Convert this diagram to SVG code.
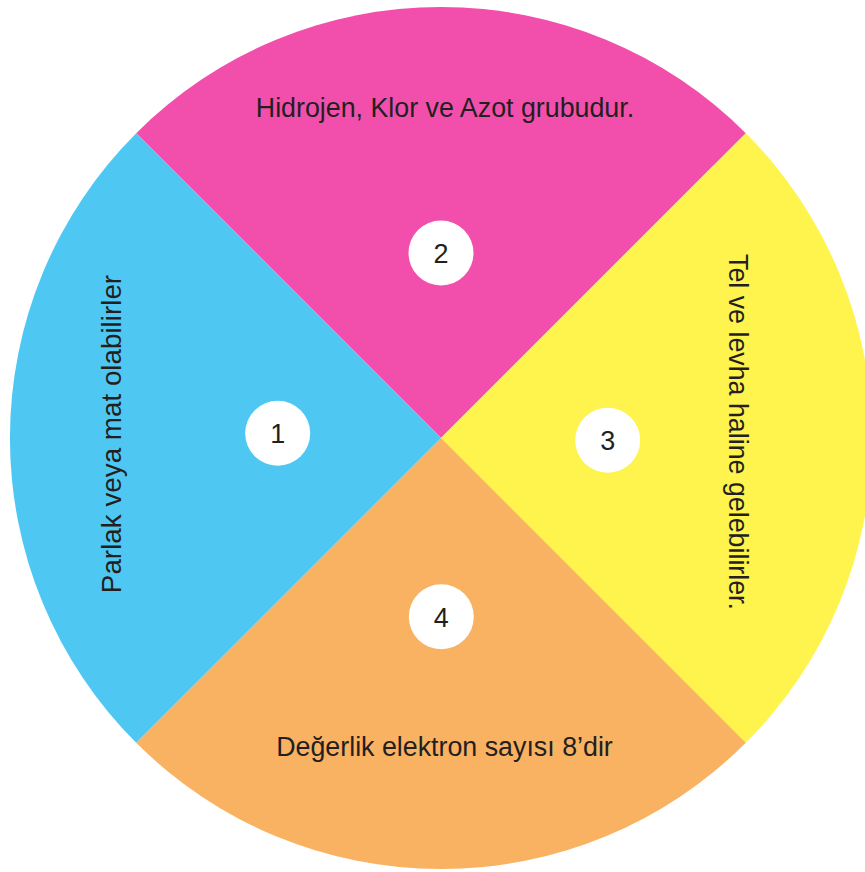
<svg xmlns="http://www.w3.org/2000/svg" width="865" height="872" viewBox="0 0 865 872">
<style>
.t{font-family:"Liberation Sans",Arial,sans-serif;fill:#231F20;font-size:26.8px;text-anchor:middle}
.n{font-size:27px}
.b{fill:#FFFFFF}
</style>
<rect width="865" height="872" fill="#FFFFFF"/>
<g id="sector-2">
<path d="M441 438 L136.2 133.2 A431 431 0 0 1 745.8 133.2 Z" fill="#F24FAD"/>
<text class="t" x="445" y="117">Hidrojen, Klor ve Azot grubudur.</text>
<circle class="b" cx="441" cy="253" r="32.5"/>
<text class="t n" x="441" y="262.5">2</text>
</g>
<g id="sector-3">
<path d="M441 438 L745.8 133.2 A431 431 0 0 1 745.8 742.8 Z" fill="#FFF34D"/>
<text class="t" transform="translate(729 432) rotate(90)" x="0" y="0">Tel ve levha haline gelebilirler.</text>
<circle class="b" cx="607.7" cy="440.3" r="32.5"/>
<text class="t n" x="607.7" y="450">3</text>
</g>
<g id="sector-4">
<path d="M441 438 L745.8 742.8 A431 431 0 0 1 136.2 742.8 Z" fill="#F9B262"/>
<text class="t" x="444.5" y="756">Değerlik elektron sayısı 8’dir</text>
<circle class="b" cx="441.3" cy="616.7" r="32.5"/>
<text class="t n" x="441.3" y="626.5">4</text>
</g>
<g id="sector-1">
<path d="M441 438 L136.2 742.8 A431 431 0 0 1 136.2 133.2 Z" fill="#4FC7F3"/>
<text class="t" style="font-size:27.8px" transform="translate(121 434) rotate(-90)" x="0" y="0">Parlak veya mat olabilirler</text>
<circle class="b" cx="277.7" cy="433.3" r="32.5"/>
<text class="t n" x="277.7" y="443">1</text>
</g>
<g id="connectors"></g>
</svg>
